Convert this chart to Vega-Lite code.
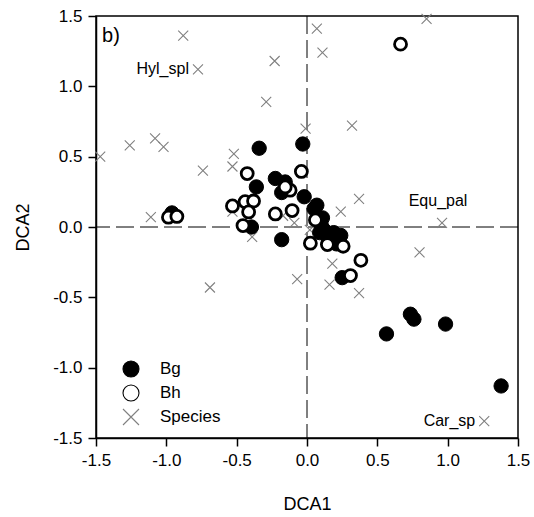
{
  "$schema": "https://vega.github.io/schema/vega-lite/v6.json",
  "width": 422,
  "height": 422,
  "autosize": {"type": "none"},
  "padding": {"left": 96, "top": 16, "right": 16, "bottom": 79},
  "background": "white",
  "data": {"values": [
    {"group": "Species", "x": -1.47, "y": 0.50},
    {"group": "Species", "x": -1.26, "y": 0.58},
    {"group": "Species", "x": -1.08, "y": 0.63},
    {"group": "Species", "x": -1.02, "y": 0.57},
    {"group": "Species", "x": -0.88, "y": 1.36},
    {"group": "Species", "x": -0.775, "y": 1.12, "label": "Hyl_spl"},
    {"group": "Species", "x": -0.74, "y": 0.40},
    {"group": "Species", "x": -1.11, "y": 0.07},
    {"group": "Species", "x": -0.52, "y": 0.52},
    {"group": "Species", "x": -0.53, "y": 0.43},
    {"group": "Species", "x": -0.53, "y": 0.11},
    {"group": "Species", "x": -0.23, "y": 1.18},
    {"group": "Species", "x": -0.29, "y": 0.89},
    {"group": "Species", "x": -0.39, "y": -0.07},
    {"group": "Species", "x": -0.69, "y": -0.43},
    {"group": "Species", "x": -0.07, "y": -0.37},
    {"group": "Species", "x": 0.07, "y": 1.41},
    {"group": "Species", "x": 0.85, "y": 1.48},
    {"group": "Species", "x": 0.11, "y": 1.24},
    {"group": "Species", "x": -0.01, "y": 0.70},
    {"group": "Species", "x": 0.32, "y": 0.72},
    {"group": "Species", "x": 0.37, "y": 0.20},
    {"group": "Species", "x": 0.24, "y": 0.11},
    {"group": "Species", "x": 0.96, "y": 0.03, "label": "Equ_pal"},
    {"group": "Species", "x": -0.09, "y": 0.03},
    {"group": "Species", "x": 0.80, "y": -0.18},
    {"group": "Species", "x": 0.18, "y": -0.26},
    {"group": "Species", "x": 0.16, "y": -0.41},
    {"group": "Species", "x": 0.37, "y": -0.47},
    {"group": "Species", "x": 1.26, "y": -1.38, "label": "Car_sp"},
    {"group": "Species", "x": 0.02, "y": -0.02},
    {"group": "Species", "x": -0.17, "y": 0.08},
    {"group": "Bg", "x": -0.34, "y": 0.56},
    {"group": "Bg", "x": -0.03, "y": 0.59},
    {"group": "Bg", "x": -0.36, "y": 0.285},
    {"group": "Bg", "x": -0.225, "y": 0.345},
    {"group": "Bg", "x": -0.155, "y": 0.32},
    {"group": "Bg", "x": -0.18, "y": 0.245},
    {"group": "Bg", "x": -0.02, "y": 0.215},
    {"group": "Bg", "x": -0.395, "y": 0.0},
    {"group": "Bg", "x": -0.18, "y": -0.09},
    {"group": "Bg", "x": 0.05, "y": 0.13},
    {"group": "Bg", "x": 0.07, "y": 0.155},
    {"group": "Bg", "x": 0.11, "y": 0.065},
    {"group": "Bg", "x": 0.10, "y": 0.02},
    {"group": "Bg", "x": 0.12, "y": -0.02},
    {"group": "Bg", "x": 0.09, "y": -0.04},
    {"group": "Bg", "x": 0.19, "y": -0.04},
    {"group": "Bg", "x": 0.24, "y": -0.06},
    {"group": "Bg", "x": 0.15, "y": -0.08},
    {"group": "Bg", "x": 0.21, "y": -0.12},
    {"group": "Bg", "x": 0.25, "y": -0.36},
    {"group": "Bg", "x": 0.565, "y": -0.76},
    {"group": "Bg", "x": 0.735, "y": -0.62},
    {"group": "Bg", "x": 0.76, "y": -0.655},
    {"group": "Bg", "x": 0.985, "y": -0.69},
    {"group": "Bg", "x": 1.38, "y": -1.13},
    {"group": "Bg", "x": -0.96, "y": 0.10},
    {"group": "Bh", "x": -0.985, "y": 0.07},
    {"group": "Bh", "x": -0.925, "y": 0.075},
    {"group": "Bh", "x": -0.425, "y": 0.38},
    {"group": "Bh", "x": -0.53, "y": 0.15},
    {"group": "Bh", "x": -0.44, "y": 0.18},
    {"group": "Bh", "x": -0.38, "y": 0.185},
    {"group": "Bh", "x": -0.415, "y": 0.107},
    {"group": "Bh", "x": -0.455, "y": 0.01},
    {"group": "Bh", "x": -0.225, "y": 0.093},
    {"group": "Bh", "x": -0.12, "y": 0.262},
    {"group": "Bh", "x": -0.106, "y": 0.117},
    {"group": "Bh", "x": -0.04, "y": 0.395},
    {"group": "Bh", "x": -0.155, "y": 0.285},
    {"group": "Bh", "x": 0.06, "y": 0.05},
    {"group": "Bh", "x": 0.024, "y": -0.115},
    {"group": "Bh", "x": 0.145, "y": -0.125},
    {"group": "Bh", "x": 0.257, "y": -0.137},
    {"group": "Bh", "x": 0.383, "y": -0.237},
    {"group": "Bh", "x": 0.309, "y": -0.345},
    {"group": "Bh", "x": 0.665, "y": 1.30}
  ]},
  "layer": [
    {
      "data": {"values": [{"x": 0}]},
      "mark": {"type": "rule", "color": "black", "strokeWidth": 1, "strokeDash": [18, 6]},
      "encoding": {"x": {"field": "x", "type": "quantitative"}}
    },
    {
      "data": {"values": [{"y": 0}]},
      "mark": {"type": "rule", "color": "black", "strokeWidth": 1, "strokeDash": [18, 6]},
      "encoding": {"y": {"field": "y", "type": "quantitative"}}
    },
    {
      "mark": {"type": "point", "opacity": 1, "fillOpacity": 1, "strokeOpacity": 1},
      "encoding": {
        "x": {"field": "x", "type": "quantitative", "scale": {"domain": [-1.5, 1.5], "nice": false, "zero": false},
              "axis": {"values": [-1.5, -1, -0.5, 0, 0.5, 1, 1.5], "labelExpr": "replace(format(datum.value, '.1f'), '\u2212', '-')", "title": "DCA1", "titlePadding": 27}},
        "y": {"field": "y", "type": "quantitative", "scale": {"domain": [-1.5, 1.5], "nice": false, "zero": false},
              "axis": {"values": [-1.5, -1, -0.5, 0, 0.5, 1, 1.5], "labelExpr": "replace(format(datum.value, '.1f'), '\u2212', '-')", "title": "DCA2", "titlePadding": 20}},
        "shape": {"field": "group", "type": "nominal",
                  "scale": {"domain": ["Bg", "Bh", "Species"], "range": ["circle", "circle", "M-1,-1L1,1M1,-1L-1,1"]},
                  "legend": {"title": null, "orient": "none", "legendX": 26, "legendY": 344,
                             "encode": {"symbols": {"update": {"strokeWidth": {"signal": "datum.value === 'Bh' ? 2.8 : (datum.value === 'Bg' ? 1 : 1.1)"}, "size": {"signal": "datum.value === 'Species' ? 150 : (datum.value === 'Bh' ? 190 : 256)"}}}}}},
        "fill": {"field": "group", "type": "nominal",
                 "scale": {"domain": ["Bg", "Bh", "Species"], "range": ["#000000", "#ffffff", "transparent"]},
                 "legend": {"title": null, "orient": "none", "legendX": 26, "legendY": 344,
                            "encode": {"symbols": {"update": {"strokeWidth": {"signal": "datum.value === 'Bh' ? 2.8 : (datum.value === 'Bg' ? 1 : 1.1)"}, "size": {"signal": "datum.value === 'Species' ? 150 : (datum.value === 'Bh' ? 190 : 256)"}}}}}},
        "stroke": {"field": "group", "type": "nominal",
                   "scale": {"domain": ["Bg", "Bh", "Species"], "range": ["#000000", "#000000", "#808080"]},
                   "legend": {"title": null, "orient": "none", "legendX": 26, "legendY": 344,
                              "encode": {"symbols": {"update": {"strokeWidth": {"signal": "datum.value === 'Bh' ? 2.8 : (datum.value === 'Bg' ? 1 : 1.1)"}, "size": {"signal": "datum.value === 'Species' ? 150 : (datum.value === 'Bh' ? 190 : 256)"}}}}}},
        "strokeWidth": {"condition": [{"test": "datum.group === 'Bh'", "value": 2.8}, {"test": "datum.group === 'Bg'", "value": 1}], "value": 1.1},
        "size": {"condition": [{"test": "datum.group === 'Bg'", "value": 205}, {"test": "datum.group === 'Bh'", "value": 144}], "value": 100}
      }
    },
    {
      "transform": [{"filter": "datum.label === 'Hyl_spl' || datum.label === 'Car_sp'"}],
      "mark": {"type": "text", "align": "right", "baseline": "middle", "dx": -9, "fontSize": 16, "font": "Liberation Sans", "color": "black"},
      "encoding": {"x": {"field": "x", "type": "quantitative"}, "y": {"field": "y", "type": "quantitative"}, "text": {"field": "label"}}
    },
    {
      "transform": [{"filter": "datum.label === 'Equ_pal'"}],
      "mark": {"type": "text", "align": "center", "baseline": "alphabetic", "dx": -4, "dy": -17, "fontSize": 16, "font": "Liberation Sans", "color": "black"},
      "encoding": {"x": {"field": "x", "type": "quantitative"}, "y": {"field": "y", "type": "quantitative"}, "text": {"field": "label"}}
    },
    {
      "data": {"values": [{"x": -1.457, "y": 1.316, "label": "b)"}]},
      "mark": {"type": "text", "align": "left", "baseline": "alphabetic", "fontSize": 20, "font": "Liberation Sans", "color": "black"},
      "encoding": {"x": {"field": "x", "type": "quantitative"}, "y": {"field": "y", "type": "quantitative"}, "text": {"field": "label"}}
    }
  ],
  "config": {
    "font": "Liberation Sans",
    "view": {"stroke": "black", "strokeWidth": 1.5},
    "axis": {"labelFont": "Liberation Sans", "labelFontSize": 17, "labelColor": "black", "titleFont": "Liberation Sans", "titleFontSize": 18, "titleFontWeight": "normal", "titleColor": "black", "domainColor": "black", "domainWidth": 1.5, "tickColor": "black", "tickSize": 8, "tickWidth": 1.5, "labelPadding": 6, "grid": false, "labelFlush": false, "labelOverlap": false},
    "legend": {"labelFont": "Liberation Sans", "labelFontSize": 17, "labelColor": "black", "symbolSize": 256, "rowPadding": 2, "labelOffset": 20, "padding": 0, "symbolStrokeWidth": 1.1}
  }
}
